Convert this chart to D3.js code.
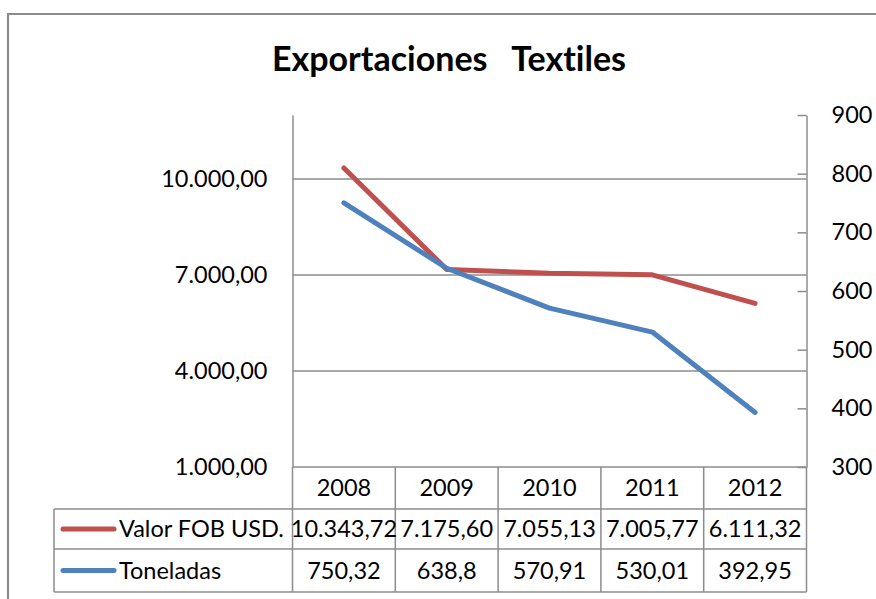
<!DOCTYPE html>
<html><head><meta charset="utf-8">
<script src="https://cdn.jsdelivr.net/npm/d3@7"></script>
<style>body{margin:0;background:#fff}svg{display:block}text{font-family:Lato,"Open Sans",sans-serif;fill:#000;font-variant-ligatures:none}</style>
</head><body><svg id="c" width="876" height="599"></svg>
<script>
const years = ["2008","2009","2010","2011","2012"];
const valorFOB = [10343.72, 7175.60, 7055.13, 7005.77, 6111.32];
const toneladas = [750.32, 638.8, 570.91, 530.01, 392.95];
const valorLabels = ["10.343,72","7.175,60","7.055,13","7.005,77","6.111,32"];
const tonLabels = ["750,32","638,8","570,91","530,01","392,95"];
const leftTicks = [1000, 4000, 7000, 10000];
const rightTicks = [300, 400, 500, 600, 700, 800, 900];
const seriesNames = ["Valor FOB USD.", "Toneladas"];
const colors = ["#C0504D", "#4F81BD"];

const svg = d3.select("#c");
const L = 292.5, R = 806.5, T = 115, B = 467;
const gridCol = "#8c8c8c";
const fmtL = v => d3.format(",.2f")(v).replace(/,/g,"#").replace(/\./g,",").replace(/#/g,".");

// outer border
svg.append("path").attr("d", `M8,${620} V14 H${880}`).attr("fill","none").attr("stroke","#8c8c8c").attr("stroke-width",2.2);

svg.append("text").attr("x",449).attr("y",71).attr("text-anchor","middle")
  .style("font-weight","bold").style("font-size","34px").attr("xml:space","preserve")
  .text("Exportaciones   Textiles");

const x = d3.scaleBand().domain(years).range([L, R]);
const yL = d3.scaleLinear().domain([1000, 12000]).range([B, T]);
const yR = d3.scaleLinear().domain([300, 900]).range([B, T]);

// gridlines
svg.append("g").selectAll("line").data(leftTicks.filter(d=>d>1000)).join("line")
  .attr("x1",L).attr("x2",R).attr("y1",d=>yL(d)).attr("y2",d=>yL(d))
  .attr("stroke",gridCol).attr("stroke-width",1.5);

// left axis
const gL = svg.append("g").attr("transform",`translate(${L},0)`)
  .call(d3.axisLeft(yL).tickValues(leftTicks).tickSize(0).tickPadding(25).tickFormat(fmtL));
gL.select(".domain").attr("stroke",gridCol).attr("stroke-width",1.5);
gL.selectAll("text").style("font-size","23.5px").style("font-family","Lato").attr("fill","#000");

// right axis
const gR = svg.append("g").attr("transform",`translate(${R},0)`)
  .call(d3.axisRight(yR).tickValues(rightTicks).tickSizeInner(-9).tickSizeOuter(0).tickPadding(25).tickFormat(d3.format("d")));
gR.select(".domain").attr("stroke",gridCol).attr("stroke-width",1.5);
gR.selectAll(".tick line").attr("stroke",gridCol).attr("stroke-width",1.5);
gR.selectAll("text").style("font-size","23.5px").style("font-family","Lato").attr("fill","#000");

// x axis line
svg.append("line").attr("x1",L).attr("x2",R).attr("y1",B).attr("y2",B).attr("stroke",gridCol).attr("stroke-width",1.5);

// lines
const lineL = d3.line().x((d,i)=>x(years[i])+x.bandwidth()/2).y(d=>yL(d));
const lineR = d3.line().x((d,i)=>x(years[i])+x.bandwidth()/2).y(d=>yR(d));
svg.append("path").attr("d",lineL(valorFOB)).attr("fill","none").attr("stroke",colors[0]).attr("stroke-width",5).attr("stroke-linecap","round").attr("stroke-linejoin","round");
svg.append("path").attr("d",lineR(toneladas)).attr("fill","none").attr("stroke",colors[1]).attr("stroke-width",5).attr("stroke-linecap","round").attr("stroke-linejoin","round");

// data table
const rowY = [467, 509, 549, 592];
const TL = 54;
const tg = svg.append("g").attr("stroke",gridCol).attr("stroke-width",1.5);
tg.append("line").attr("x1",TL).attr("x2",R).attr("y1",rowY[1]).attr("y2",rowY[1]);
tg.append("line").attr("x1",TL).attr("x2",R).attr("y1",rowY[2]).attr("y2",rowY[2]);
tg.append("line").attr("x1",TL).attr("x2",R).attr("y1",rowY[3]).attr("y2",rowY[3]);
const bounds = years.map(y=>x(y)).concat([R]);
tg.selectAll("line.v").data(bounds).join("line").attr("class","v")
  .attr("x1",d=>d).attr("x2",d=>d).attr("y1",rowY[0]).attr("y2",rowY[3]);
tg.append("line").attr("x1",TL).attr("x2",TL).attr("y1",rowY[1]).attr("y2",rowY[3]);

const fs = "23.5px";
svg.append("g").selectAll("text").data(years).join("text")
  .attr("x",d=>x(d)+x.bandwidth()/2).attr("y",(rowY[0]+rowY[1])/2+8).attr("text-anchor","middle").style("font-size",fs).text(d=>d);
svg.append("g").selectAll("text").data(valorLabels).join("text")
  .attr("x",(d,i)=>x(years[i])+x.bandwidth()/2).attr("y",(rowY[1]+rowY[2])/2+8).attr("text-anchor","middle").style("font-size",fs).text(d=>d);
svg.append("g").selectAll("text").data(tonLabels).join("text")
  .attr("x",(d,i)=>x(years[i])+x.bandwidth()/2).attr("y",(rowY[2]+rowY[3])/2+8).attr("text-anchor","middle").style("font-size",fs).text(d=>d);

seriesNames.forEach((name,i)=>{
  const cy = (rowY[i+1]+rowY[i+2])/2;
  svg.append("line").attr("x1",63).attr("x2",114).attr("y1",cy).attr("y2",cy)
    .attr("stroke",colors[i]).attr("stroke-width",5).attr("stroke-linecap","round");
  svg.append("text").attr("x",119).attr("y",cy+8).style("font-size",fs).text(name);
});
</script></body></html>
